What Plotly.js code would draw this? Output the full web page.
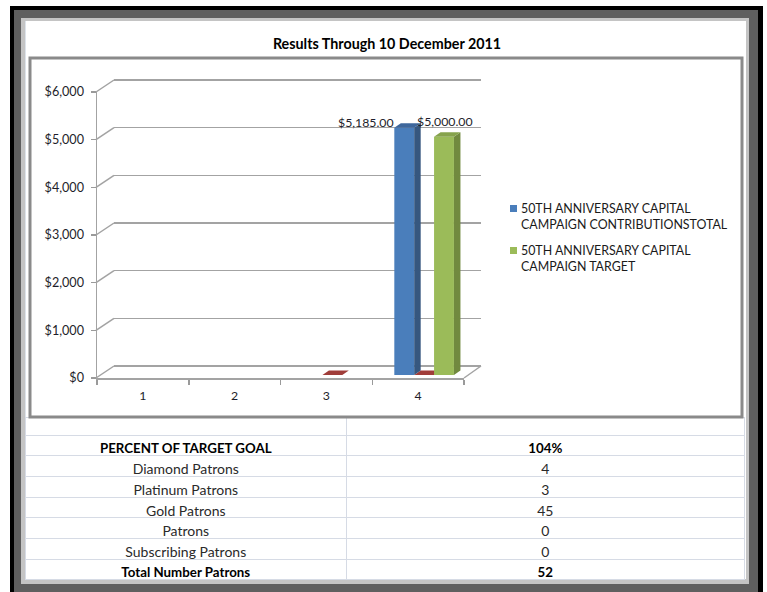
<!DOCTYPE html>
<html><head><meta charset="utf-8">
<script src="https://cdn.plot.ly/plotly-3.0.1.min.js"></script>
<style>
html,body{margin:0;padding:0;background:#fff;}
#wrap{position:relative;width:767px;height:592px;overflow:hidden;}
.f{position:absolute;}
#chart{position:absolute;left:0;top:0;width:767px;height:592px;}
</style></head><body>
<div id="wrap">
<div class="f" style="left:10px;top:6px;width:753px;height:586px;background:#000"></div>
<div class="f" style="left:14px;top:10px;width:744px;height:582px;background:#5f5f5f"></div>
<div class="f" style="left:21px;top:18px;width:728px;height:566px;background:#c4c4c4"></div>
<div class="f" style="left:25px;top:21px;width:720px;height:558px;background:#fff;border-left:1px solid #dde3ea;"></div>
<div id="chart"></div>
</div>
<script>
// ---- data ----
const categories = ['1', '2', '3', '4'];
const contributions = [null, null, null, 5185];
const target = [null, null, null, 5000];
const otherSeries = [null, null, 0, 0];
const seriesNames = ['50TH ANNIVERSARY CAPITAL<br>CAMPAIGN CONTRIBUTIONSTOTAL', '50TH ANNIVERSARY CAPITAL<br>CAMPAIGN TARGET'];
const dataLabels = ['$5,185.00', '$5,000.00'];
const yTickVals = [0, 1000, 2000, 3000, 4000, 5000, 6000];
const yTickText = ['$0', '$1,000', '$2,000', '$3,000', '$4,000', '$5,000', '$6,000'];
const chartTitle = 'Results Through 10 December 2011';
const tableLabels = ['PERCENT OF TARGET GOAL', 'Diamond Patrons', 'Platinum Patrons', 'Gold Patrons', 'Patrons', 'Subscribing Patrons', 'Total Number Patrons'];
const tableValues = ['104%', '4', '3', '45', '0', '0', '52'];
const tableBoldRows = [true, false, false, false, false, false, true];

// ---- styles / geometry ----
const W = 767, H = 592;
const FONT = 'Lato, "Open Sans", sans-serif';
const colors = {blue: '#4A7EBB', blueSide: '#36577F', blueTop: '#3E679C',
  red: '#A03D3A', green: '#9BBB59', greenSide: '#71893F', greenTop: '#86A34C'};
const FX0 = 97, FX1 = 464, FYB = 378, FYT = 92;   // front axis box (px)
const BX = 17, BY = 12;                             // back wall offset (px)
const CX = 6, CY = 3;                               // bar row offset (px)
const DPX = 6.5, DPY = 4.5;                         // bar depth (px)
const px = v => v / W, py = v => 1 - v / H;
const yMax = 6000;
const pxPerUnitY = (FYB - FYT) / yMax;
const pxPerCatX = (FX1 - FX0) / 4;
const pad = 100; // y2 range padding so edge gridlines are kept
const padPx = pad * pxPerUnitY;

const bargap = 0.35;
const bw = (1 - bargap) / 3;
const offs = [-bw, 0, bw];

const series = [
  {y: contributions, front: colors.blue, side: colors.blueSide, top: colors.blueTop, name: seriesNames[0]},
  {y: otherSeries, front: colors.red, side: colors.red, top: colors.red, name: ''},
  {y: target, front: colors.green, side: colors.greenSide, top: colors.greenTop, name: seriesNames[1]}
];

const xNum = categories.map((c, i) => i + 1);
const traces = [];
// dummy traces to register the front-axis and back-wall subplots
traces.push({type: 'scatter', x: [], y: [], xaxis: 'x', yaxis: 'y', showlegend: false, hoverinfo: 'skip'});
traces.push({type: 'scatter', x: [], y: [], xaxis: 'x2', yaxis: 'y2', showlegend: false, hoverinfo: 'skip'});
series.forEach(s => traces.push({
  type: 'bar', x: xNum, y: s.y, xaxis: 'x3', yaxis: 'y3',
  marker: {color: s.front, line: {width: 0}}, showlegend: false, hoverinfo: 'skip'
}));

// table
const weights = tableBoldRows.map(b => b ? 700 : 400);
const sizes = tableBoldRows.map(b => b ? 13.3 : 14);
const fcols = tableBoldRows.map(b => b ? '#000000' : '#2a2a2a');
traces.push({
  type: 'table',
  domain: {x: [px(25), px(745)], y: [py(580), py(417)]},
  columnwidth: [322, 398],
  header: {values: ['', ''], height: 18, fill: {color: '#ffffff'}, line: {color: '#d6dbe5', width: 1},
    font: {family: FONT, size: 10}},
  cells: {values: [tableLabels, tableValues], height: 20.7, align: 'center',
    fill: {color: '#ffffff'}, line: {color: '#d6dbe5', width: 1},
    font: {family: FONT, size: [sizes, sizes], color: [fcols, fcols], weight: [weights, weights]}}
});

const shapes = [];
const ddx = DPX / pxPerCatX, ddy = DPY / pxPerUnitY;
series.forEach((s, k) => {
  s.y.forEach((v, i) => {
    if (v === null) return;
    const xl = xNum[i] + offs[k] - bw / 2, xr = xl + bw;
    if (v > 0) {
      shapes.push({type: 'path', xref: 'x3', yref: 'y3', layer: 'above',
        path: `M${xr},0 L${xr + ddx},${ddy} L${xr + ddx},${v + ddy} L${xr},${v} Z`,
        fillcolor: s.side, line: {width: 0}});
    }
    shapes.push({type: 'path', xref: 'x3', yref: 'y3', layer: v > 0 ? 'above' : 'between',
      path: `M${xl},${v} L${xl + ddx},${v + ddy} L${xr + ddx},${v + ddy} L${xr},${v} Z`,
      fillcolor: s.top, line: {width: 0}});
  });
});
// 3D wall connectors
yTickVals.forEach(v => {
  const yf = FYB - v * pxPerUnitY;
  shapes.push({type: 'line', xref: 'paper', yref: 'paper', x0: px(FX0 - 1), y0: py(yf), x1: px(FX0 + BX), y1: py(yf - BY),
    line: {color: '#a3a3a3', width: 1.5}});
});
shapes.push({type: 'line', xref: 'paper', yref: 'paper', x0: px(FX1), y0: py(FYB), x1: px(FX1 + BX), y1: py(FYB - BY),
  line: {color: '#a3a3a3', width: 1.5}});
// plot area box
shapes.push({type: 'rect', xref: 'paper', yref: 'paper', x0: px(30), x1: px(742), y0: py(417), y1: py(58),
  line: {color: '#8a8a8a', width: 3}, fillcolor: 'rgba(0,0,0,0)', layer: 'above'});
// legend squares
const legendTop = [205, 247];
[colors.blue, colors.green].forEach((c, k) => {
  shapes.push({type: 'rect', xref: 'paper', yref: 'paper', x0: px(510), x1: px(517), y0: py(legendTop[k] + 7), y1: py(legendTop[k]),
    fillcolor: c, line: {width: 0}});
});

const annotations = [];
// data labels
annotations.push({xref: 'x3', yref: 'y3', x: xNum[3] + offs[0] - bw / 2, y: contributions[3], text: dataLabels[0],
  showarrow: false, xanchor: 'right', yanchor: 'middle', xshift: 2, yshift: 5,
  font: {family: FONT, size: 12.3, color: '#1e1e2a'}});
annotations.push({xref: 'x3', yref: 'y3', x: xNum[3] + offs[2], y: target[3], text: dataLabels[1],
  showarrow: false, xanchor: 'center', yanchor: 'middle', xshift: 1, yshift: 15,
  font: {family: FONT, size: 12.3, color: '#1e1e2a'}});
// legend text
[0, 1].forEach(k => {
  annotations.push({xref: 'paper', yref: 'paper', x: px(519), y: py(legendTop[k] - 6), text: [series[0], series[2]][k].name,
    showarrow: false, xanchor: 'left', yanchor: 'top', align: 'left',
    font: {family: FONT, size: 12.4, color: '#1a1a1a'}});
});

const layout = {
  width: W, height: H, margin: {l: 0, r: 0, t: 0, b: 0},
  paper_bgcolor: 'rgba(0,0,0,0)', plot_bgcolor: 'rgba(0,0,0,0)',
  showlegend: false, barmode: 'group', bargap: bargap, bargroupgap: 0,
  font: {family: FONT, color: '#1e1e2a'},
  title: {text: '<b>' + chartTitle + '</b>', x: px(387), xanchor: 'center', xref: 'paper',
    y: py(44), yref: 'paper', yanchor: 'middle', font: {family: FONT, size: 14.3, color: '#000'}},
  xaxis: {type: 'category', domain: [px(FX0), px(FX1)], range: [-0.5, 3.5], anchor: 'y',
    categoryarray: categories, categoryorder: 'array',
    tickson: 'boundaries', ticks: 'outside', ticklen: 5, tickcolor: '#9a9a9a', tickwidth: 1.5,
    showline: true, linecolor: '#a3a3a3', linewidth: 1.5, showgrid: false, zeroline: false,
    tickfont: {family: FONT, size: 12.3, color: '#1e1e2a'}, ticklabelstandoff: 6, fixedrange: true},
  yaxis: {domain: [py(FYB), py(FYT)], range: [0, yMax], anchor: 'x',
    tickvals: yTickVals, ticktext: yTickText, ticks: 'outside', ticklen: 5, tickcolor: '#9a9a9a', tickwidth: 1.5,
    showline: true, linecolor: '#a3a3a3', linewidth: 1.5, showgrid: false, zeroline: false,
    tickfont: {family: FONT, size: 12.6, color: '#1e1e2a'}, ticklabelstandoff: 4, fixedrange: true},
  xaxis2: {domain: [px(FX0 + BX), px(FX1 + BX)], range: [0.5, 4.5], anchor: 'y2',
    showticklabels: false, showgrid: false, zeroline: false, showline: false, ticks: ''},
  yaxis2: {domain: [py(FYB - BY + padPx), py(FYT - BY - padPx)], range: [-pad, yMax + pad], anchor: 'x2', tickvals: yTickVals,
    showticklabels: false, showgrid: true, gridcolor: '#a3a3a3', gridwidth: 1.5, zeroline: false, showline: false, ticks: ''},
  xaxis3: {domain: [px(FX0 + CX), px(FX1 + CX)], range: [0.5, 4.5], anchor: 'y3',
    showticklabels: false, showgrid: false, zeroline: false, showline: false, ticks: ''},
  yaxis3: {domain: [py(FYB - CY), py(FYT - CY)], range: [0, yMax], anchor: 'x3',
    showticklabels: false, showgrid: false, zeroline: false, showline: false, ticks: ''},
  shapes: shapes, annotations: annotations
};

Plotly.newPlot('chart', traces, layout, {staticPlot: true, displayModeBar: false});
</script>
</body></html>
